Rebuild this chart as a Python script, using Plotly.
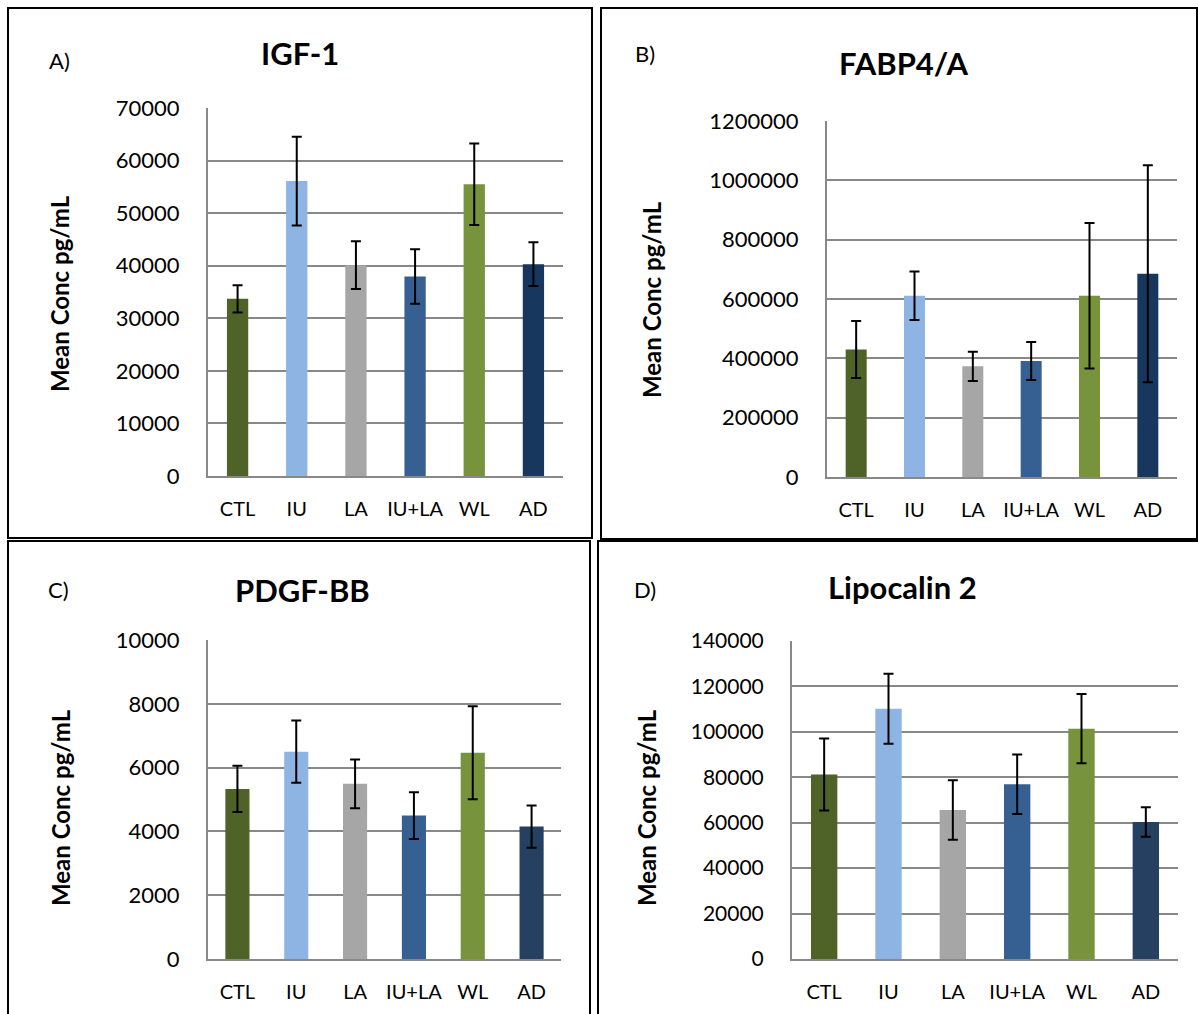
import plotly.graph_objects as go

W, H = 1198, 1014

categories = ["CTL", "IU", "LA", "IU+LA", "WL", "AD"]

igf1_mean = [33700, 56100, 40100, 37950, 55500, 40300]
igf1_err = [2600, 8450, 4550, 5200, 7750, 4150]

fabp4_mean = [430000, 611000, 373000, 391000, 611000, 685000]
fabp4_err = [96000, 82000, 49000, 64000, 245000, 366000]

pdgf_mean = [5330, 6500, 5490, 4495, 6465, 4150]
pdgf_err = [725, 975, 765, 735, 1460, 665]

lcn2_mean = [81200, 110200, 65600, 76900, 101400, 60300]
lcn2_err = [15850, 15400, 13070, 13080, 15270, 6500]

colors_top = ["#4F6228", "#8EB4E3", "#A6A6A6", "#366092", "#77933C", "#17375E"]
colors_bottom = ["#4F6228", "#8EB4E3", "#A6A6A6", "#366092", "#77933C", "#254061"]

FONT = "Lato"

def px_x(v):
    return v / W

def px_y(v):
    return 1 - v / H

panels = [
    dict(title="IGF-1", label="A)", mean=igf1_mean, err=igf1_err, colors=colors_top,
         box=(208, 563, 108, 476), ymax=70000, dtick=10000, wfrac=0.36, tfs=22,
         title_xy=(300, 53), label_xy=(59, 61), ytitle_xy=(60, 294)),
    dict(title="FABP4/A", label="B)", mean=fabp4_mean, err=fabp4_err, colors=colors_top,
         box=(827, 1177, 121, 477), ymax=1200000, dtick=200000, wfrac=0.36, tfs=22,
         title_xy=(903, 63), label_xy=(645, 53), ytitle_xy=(652, 300)),
    dict(title="PDGF-BB", label="C)", mean=pdgf_mean, err=pdgf_err, colors=colors_bottom,
         box=(208, 561, 640, 959), ymax=10000, dtick=2000, wfrac=0.41, tfs=22,
         title_xy=(302, 590), label_xy=(58, 589), ytitle_xy=(60, 808)),
    dict(title="Lipocalin 2", label="D)", mean=lcn2_mean, err=lcn2_err, colors=colors_bottom,
         box=(792, 1178, 641, 959), ymax=140000, dtick=20000, wfrac=0.41, tfs=21,
         title_xy=(902, 587), label_xy=(645, 589), ytitle_xy=(646, 808)),
]

fig = go.Figure()
annotations = []
layout_axes = {}

for i, p in enumerate(panels):
    n = "" if i == 0 else str(i + 1)
    x0, x1, yt, yb = p["box"]
    fig.add_trace(go.Bar(
        x=categories, y=p["mean"],
        marker=dict(color=p["colors"], line=dict(width=0)),
        width=p["wfrac"],
        error_y=dict(type="data", array=p["err"], visible=True,
                     color="#000000", thickness=2, width=5),
        xaxis="x" + n, yaxis="y" + n, showlegend=False,
        hoverinfo="x+y",
    ))
    layout_axes["xaxis" + n] = dict(
        domain=[px_x(x0), px_x(x1)], anchor="y" + n, automargin=False,
        showgrid=False, showline=True, linecolor="#888888", linewidth=2,
        ticks="", tickfont=dict(family=FONT, size=20, color="#000000"),
        ticklabelstandoff=14, fixedrange=True,
        categoryorder="array", categoryarray=categories,
    )
    layout_axes["yaxis" + n] = dict(
        domain=[px_y(yb), px_y(yt)], anchor="x" + n, automargin=False,
        range=[0, p["ymax"]], dtick=p["dtick"], tick0=0,
        showgrid=True, gridcolor="#888888", gridwidth=2,
        showline=True, linecolor="#888888", linewidth=2,
        zeroline=False, ticks="", tickformat="d",
        tickfont=dict(family=FONT, size=p["tfs"], color="#000000"),
        ticklabelstandoff=22, fixedrange=True,
    )
    tx, ty = p["title_xy"]
    annotations.append(dict(text="<b>" + p["title"] + "</b>", x=px_x(tx), y=px_y(ty),
                            xref="paper", yref="paper", showarrow=False,
                            xanchor="center", yanchor="middle",
                            font=dict(family=FONT, size=31, color="#000000")))
    lx, ly = p["label_xy"]
    annotations.append(dict(text=p["label"], x=px_x(lx), y=px_y(ly),
                            xref="paper", yref="paper", showarrow=False,
                            xanchor="center", yanchor="middle",
                            font=dict(family=FONT, size=22, color="#000000")))
    yx, yy = p["ytitle_xy"]
    annotations.append(dict(text="<b>Mean Conc pg/mL</b>", x=px_x(yx), y=px_y(yy),
                            xref="paper", yref="paper", showarrow=False,
                            xanchor="center", yanchor="middle", textangle=-90,
                            font=dict(family=FONT, size=24, color="#000000")))

borders = [(8, 592, 8, 538), (601, 1197, 8, 539), (8, 590, 541, 1020), (598, 1200, 541, 1020)]
shapes = []
for bx0, bx1, by0, by1 in borders:
    shapes.append(dict(type="rect", xref="paper", yref="paper",
                       x0=px_x(bx0), x1=px_x(bx1), y0=px_y(by1), y1=px_y(by0),
                       line=dict(color="#000000", width=2), fillcolor="rgba(0,0,0,0)",
                       layer="above"))

fig.update_layout(
    width=W, height=H,
    margin=dict(l=0, r=0, t=0, b=0, pad=0, autoexpand=False),
    paper_bgcolor="#FFFFFF", plot_bgcolor="#FFFFFF",
    annotations=annotations, shapes=shapes,
    bargap=0.6, showlegend=False,
    **layout_axes,
)

fig.write_html("out.html", config={"displayModeBar": False})
